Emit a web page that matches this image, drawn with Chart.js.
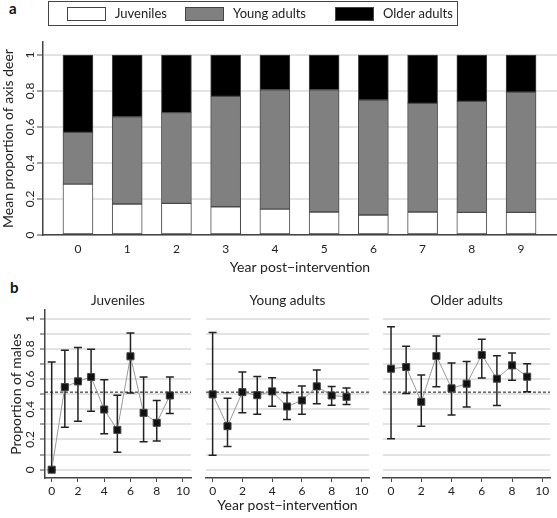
<!DOCTYPE html>
<html>
<head>
<meta charset="utf-8">
<script src="https://cdn.jsdelivr.net/npm/chart.js@4.4.1/dist/chart.umd.min.js"></script>
<style>
  html, body { margin: 0; padding: 0; background: #fff; }
  body { width: 557px; height: 518px; position: relative; overflow: hidden; font-family: Lato, sans-serif; }
  .box { position: absolute; }
  .tag { position: absolute; font: bold 15px Lato, sans-serif; color: #111; }
</style>
</head>
<body>
<div class="tag" style="left:9px;top:-1px">a</div>
<div class="tag" style="left:10px;top:278px">b</div>
<div class="box" style="left:0;top:0;width:557px;height:280px"><canvas id="shares"></canvas></div>
<div class="box" style="left:0;top:280px;width:200px;height:238px"><canvas id="maleJuv"></canvas></div>
<div class="box" style="left:200px;top:280px;width:175px;height:238px"><canvas id="maleYoung"></canvas></div>
<div class="box" style="left:375px;top:280px;width:182px;height:238px"><canvas id="maleOlder"></canvas></div>
<script>
Chart.defaults.font.family = 'Lato, sans-serif';
Chart.defaults.color = '#222';
Chart.defaults.animation = false;

// data
const years = [0, 1, 2, 3, 4, 5, 6, 7, 8, 9];
const ageClasses = ['Juveniles', 'Young adults', 'Older adults'];
const juvenileShare = [0.283, 0.172, 0.176, 0.157, 0.144, 0.128, 0.111, 0.128, 0.126, 0.126];
const youngShare    = [0.287, 0.485, 0.504, 0.613, 0.663, 0.679, 0.639, 0.603, 0.616, 0.668];
const olderShare    = [0.430, 0.343, 0.320, 0.230, 0.193, 0.193, 0.250, 0.269, 0.258, 0.206];

const maleJuv      = [0.000, 0.546, 0.584, 0.613, 0.398, 0.263, 0.750, 0.376, 0.310, 0.491];
const maleJuvLow   = [0.000, 0.281, 0.321, 0.387, 0.237, 0.115, 0.507, 0.184, 0.190, 0.372];
const maleJuvHigh  = [0.712, 0.790, 0.808, 0.796, 0.595, 0.493, 0.905, 0.613, 0.458, 0.613];
const maleYoung     = [0.498, 0.288, 0.513, 0.493, 0.518, 0.418, 0.458, 0.551, 0.491, 0.482];
const maleYoungLow  = [0.095, 0.153, 0.376, 0.367, 0.420, 0.332, 0.367, 0.436, 0.427, 0.431];
const maleYoungHigh = [0.907, 0.473, 0.646, 0.617, 0.608, 0.509, 0.553, 0.659, 0.551, 0.540];
const maleOlder     = [0.668, 0.679, 0.449, 0.752, 0.538, 0.569, 0.759, 0.602, 0.690, 0.615];
const maleOlderLow  = [0.204, 0.504, 0.288, 0.549, 0.361, 0.414, 0.606, 0.425, 0.591, 0.515];
const maleOlderHigh = [0.945, 0.816, 0.626, 0.885, 0.706, 0.715, 0.863, 0.754, 0.772, 0.701];
const sexRatioLine = 0.513;

const shareTicks = [0, 0.2, 0.4, 0.6, 0.8, 1];
const maleTicks = [0, 0.2, 0.4, 0.6, 0.8, 1];
const yearTicks = [0, 2, 4, 6, 8, 10];

const axisColor = '#444';
const gridColor = '#e3e3e3';
const xTitle = 'Year post\u2212intervention';

// boxed legend across the top of panel a
const legendSlots = [67, 185, 335];
const legendFrame = {
  id: 'legendFrame',
  afterDraw(chart) {
    const ctx = chart.ctx;
    ctx.save();
    ctx.strokeStyle = axisColor;
    ctx.lineWidth = 1;
    ctx.strokeRect(48.5, 1.5, 409, 24);
    ctx.font = '13px Lato, sans-serif';
    ctx.textBaseline = 'middle';
    chart.data.datasets.forEach((ds, i) => {
      const bx = legendSlots[i];
      ctx.fillStyle = ds.backgroundColor;
      ctx.fillRect(bx, 7, 38, 13);
      ctx.strokeRect(bx + 0.5, 7.5, 38, 13);
      ctx.fillStyle = '#222';
      ctx.fillText(ds.label, bx + 48, 14);
    });
    ctx.restore();
  }
};

// vertical error bars taken from the first dataset
const errorBars = {
  id: 'errorBars',
  beforeDatasetsDraw(chart) {
    const {ctx, scales: {x, y}} = chart;
    const ds = chart.data.datasets[0];
    ctx.save();
    ctx.strokeStyle = '#222';
    ctx.lineWidth = 1.5;
    ds.data.forEach((pt, i) => {
      const px = x.getPixelForValue(pt.x);
      const top = y.getPixelForValue(ds.errHigh[i]);
      const bot = y.getPixelForValue(ds.errLow[i]);
      ctx.beginPath();
      ctx.moveTo(px, top); ctx.lineTo(px, bot);
      ctx.moveTo(px - 4, top); ctx.lineTo(px + 4, top);
      ctx.moveTo(px - 4, bot); ctx.lineTo(px + 4, bot);
      ctx.stroke();
    });
    ctx.restore();
  }
};

const asPoints = (vals) => years.map((yr, i) => ({x: yr, y: vals[i]}));

new Chart(document.getElementById('shares'), {
  type: 'bar',
  data: {
    datasets: [
      {label: ageClasses[0], data: asPoints(juvenileShare), backgroundColor: '#ffffff'},
      {label: ageClasses[1], data: asPoints(youngShare), backgroundColor: '#808080'},
      {label: ageClasses[2], data: asPoints(olderShare), backgroundColor: '#000000'}
    ]
  },
  options: {
    responsive: true,
    maintainAspectRatio: false,
    layout: {padding: {top: 42, left: 0, right: 0, bottom: 0}},
    datasets: {bar: {barThickness: 30, borderWidth: 1, borderColor: '#4a4a4a', borderSkipped: false}},
    plugins: {legend: {display: false}, tooltip: {enabled: false}},
    scales: {
      x: {
        type: 'linear', stacked: true, offset: false, min: -0.71, max: 9.73,
        afterFit: (s) => { s.height = 45; },
        grid: {display: false, drawTicks: false},
        border: {color: axisColor, width: 1.5},
        ticks: {stepSize: 1, includeBounds: false, autoSkip: false, padding: 7, font: {size: 12}},
        title: {display: true, text: xTitle, font: {size: 14}, padding: {top: 0, bottom: 4}}
      },
      y: {
        stacked: true, min: 0, max: 1.072,
        afterFit: (s) => { s.width = 43; },
        grid: {color: gridColor, lineWidth: 2, tickColor: axisColor, tickWidth: 1, tickLength: 6},
        border: {color: axisColor, width: 1.5},
        ticks: {
          stepSize: 0.2, includeBounds: false, autoSkip: false, minRotation: 90, maxRotation: 90,
          crossAlign: 'center', padding: -2, font: {size: 12},
          callback: (v) => shareTicks.includes(Math.round(v * 10) / 10) ? String(Math.round(v * 10) / 10) : ''
        },
        title: {display: true, text: 'Mean proportion of axis deer', font: {size: 14}, padding: {top: 0, bottom: 0}}
      }
    }
  },
  plugins: [legendFrame]
});

function malePanel(id, title, vals, low, high, xMin, xMax, pad, withY, withTitle) {
  return new Chart(document.getElementById(id), {
    type: 'line',
    data: {
      datasets: [
        {
          data: asPoints(vals), errLow: low, errHigh: high,
          borderColor: '#999', borderWidth: 1,
          pointStyle: 'rect', pointRadius: 5, pointBackgroundColor: '#111',
          pointBorderColor: '#444', pointBorderWidth: 1
        },
        {
          data: [{x: xMin, y: sexRatioLine}, {x: xMax, y: sexRatioLine}],
          borderColor: '#111', borderWidth: 1, borderDash: [3, 2], pointRadius: 0
        }
      ]
    },
    options: {
      responsive: true,
      maintainAspectRatio: false,
      layout: {padding: {top: 0, left: pad[0], right: pad[1], bottom: 0}},
      plugins: {
        legend: {display: false},
        tooltip: {enabled: false},
        title: {
          display: true, text: title, fullSize: false, color: '#222',
          font: {size: 13.5, weight: 'normal'}, padding: {top: 13, bottom: 1}
        }
      },
      scales: {
        x: {
          type: 'linear', min: xMin, max: xMax,
          afterFit: (s) => { s.height = 40; },
          grid: {drawOnChartArea: false, tickLength: 4, tickColor: axisColor, tickWidth: 1},
          border: {color: axisColor, width: 1.5},
          ticks: {
            stepSize: 2, includeBounds: false, autoSkip: false, padding: 2, font: {size: 12},
            callback: (v) => yearTicks.includes(v) ? String(v) : ''
          },
          title: {display: withTitle, text: xTitle, font: {size: 14}, padding: {top: 0, bottom: 4}}
        },
        y: {
          min: -0.055, max: 1.055,
          afterFit: (s) => { s.width = withY ? 45 : 0; },
          grid: {color: gridColor, lineWidth: 2, drawTicks: withY, tickLength: 5, tickColor: axisColor, tickWidth: 1},
          border: {display: withY, color: axisColor, width: 1.5},
          ticks: {
            display: withY, stepSize: 0.1, includeBounds: false, autoSkip: false,
            minRotation: 90, maxRotation: 90, crossAlign: 'center', padding: 1, font: {size: 12},
            callback: (v) => maleTicks.includes(Math.round(v * 10) / 10) ? String(Math.round(v * 10) / 10) : ''
          },
          title: {display: withY, text: 'Proportion of males', font: {size: 14}, padding: {top: 8, bottom: 0}}
        }
      }
    },
    plugins: [errorBars]
  });
}

malePanel('maleJuv', ageClasses[0], maleJuv, maleJuvLow, maleJuvHigh, -0.51, 10.61, [0, 9], true, false);
malePanel('maleYoung', ageClasses[1], maleYoung, maleYoungLow, maleYoungHigh, -0.445, 10.51, [5, 5], false, true);
malePanel('maleOlder', ageClasses[2], maleOlder, maleOlderLow, maleOlderHigh, -0.53, 10.51, [8, 7], false, false);
</script>
</body>
</html>
